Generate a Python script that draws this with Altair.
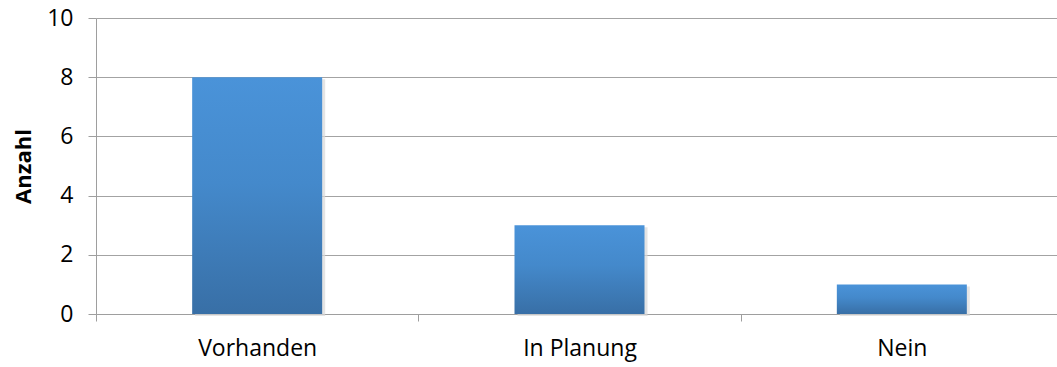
import altair as alt
import pandas as pd

categories = ["Vorhanden", "In Planung", "Nein"]
values = [8, 3, 1]

df = pd.DataFrame({"Kategorie": categories, "Anzahl": values})

grad = alt.Gradient(
    gradient="linear",
    x1=0, y1=0, x2=0, y2=1,
    stops=[
        alt.GradientStop(color="#4A93D9", offset=0),
        alt.GradientStop(color="#4489CB", offset=0.45),
        alt.GradientStop(color="#386FA6", offset=1),
    ],
)

FONT = "Open Sans"

x = alt.X(
    "Kategorie:N",
    sort=categories,
    title=None,
    scale=alt.Scale(paddingInner=0, paddingOuter=0, range=[0, 967]),
    axis=alt.Axis(
        labelAngle=0,
        labelFont=FONT,
        labelFontSize=23,
        labelColor="#000000",
        labelPadding=16,
        tickBand="extent",
        tickSize=7,
        tickColor="#9E9E9E",
        domainColor="#9E9E9E",
        grid=False,
    ),
)

y = alt.Y(
    "Anzahl:Q",
    scale=alt.Scale(domain=[0, 10], nice=False),
    axis=alt.Axis(
        values=[0, 2, 4, 6, 8, 10],
        title="Anzahl",
        titleFont=FONT,
        titleFontSize=22,
        titleFontWeight="bold",
        titleColor="#000000",
        titleAngle=-90,
        titleX=-73,
        titleY=148,
        titleAlign="center",
        titleBaseline="middle",
        labelFont=FONT,
        labelFontSize=23,
        labelColor="#000000",
        labelPadding=15,
        tickSize=8,
        tickColor="#9E9E9E",
        domainColor="#9E9E9E",
        gridColor="#A3A3A3",
        grid=True,
    ),
)

shadow = alt.Chart(df).mark_bar(
    size=130, color="#D9D9D9", opacity=0.7, xOffset=3, yOffset=2, y2Offset=3
).encode(x=x, y=y)

bars = alt.Chart(df).mark_bar(size=130, color=grad).encode(x=x, y=y)

chart = (
    alt.layer(shadow, bars)
    .properties(
        width=961,
        height=296,
        autosize=alt.AutoSizeParams(type="none"),
        padding={"left": 96, "top": 18, "right": 0, "bottom": 53},
        background="#FFFFFF",
    )
    .configure_view(stroke=None)
)

chart.save("out.html", embed_options={"renderer": "svg", "actions": False})
